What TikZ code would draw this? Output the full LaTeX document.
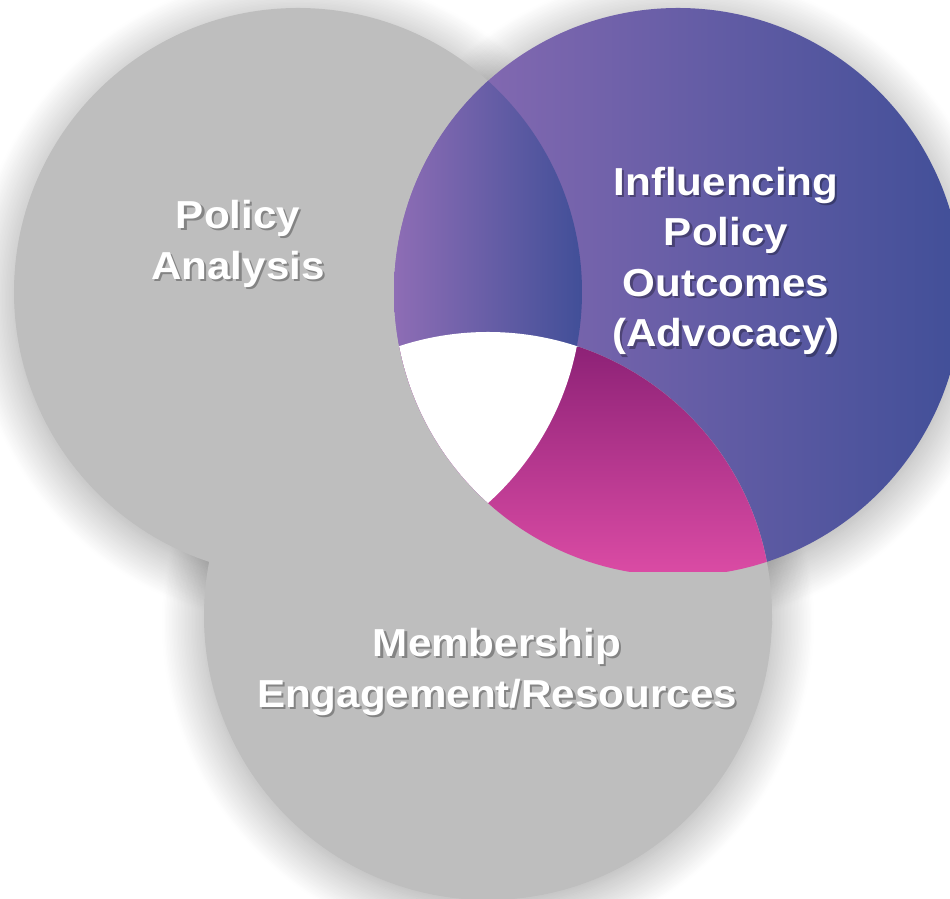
\documentclass[tikz,border=0pt]{standalone}
\usepackage{fontspec}
\setmainfont{Liberation Sans}[FakeStretch=1.08]
\usepackage{tikz}
\usetikzlibrary{shadows.blur}

\definecolor{circgray}{HTML}{BEBEBE}
\definecolor{purpleL}{HTML}{8E6DB5}
\definecolor{blueR}{HTML}{414F98}
\definecolor{magTop}{HTML}{8E2277}
\definecolor{magBot}{HTML}{DA4BA4}

\tikzset{
  venn label/.style={font=\bfseries\fontsize{11.1}{14.4}\selectfont, text=white, align=center, inner sep=0pt},
  venn shadow/.style={venn label, text=black, opacity=0.3, xshift=0.6pt, yshift=-0.6pt},
  circ shadow/.style={blur shadow={shadow xshift=0pt, shadow yshift=-2pt, shadow blur radius=12pt, shadow blur steps=30, shadow opacity=38}}
}

\begin{document}
\begin{tikzpicture}
    \useasboundingbox (0,0) rectangle (9.5,8.98);
    \def\rad{2.84}
    \coordinate (L) at (2.98,6.06);
    \coordinate (R) at (6.78,6.06);
    \coordinate (B) at (4.88,2.82);
    % soft shadows first
    \foreach \c in {L,R,B}
      \path[circ shadow] (\c) circle (\rad);
    \fill[circgray] (L) circle (\rad);
    \shade[left color=purpleL, right color=blueR] (R) circle (\rad);
    \fill[circgray] (B) circle (\rad);
    % left and right overlap
    \begin{scope}
      \clip (L) circle (\rad);
      \clip (R) circle (\rad);
      \shade[left color=purpleL, right color=blueR] (3.94,3) rectangle (5.82,8.3);
    \end{scope}
    % right and bottom overlap
    \begin{scope}
      \clip (R) circle (\rad);
      \clip (B) circle (\rad);
      \shade[top color=magTop, bottom color=magBot] (3.9,5.5) rectangle (7.8,3.26);
    \end{scope}
    % all three
    \begin{scope}
      \clip (L) circle (\rad);
      \clip (R) circle (\rad);
      \fill[white] (B) circle (\rad);
    \end{scope}
    % labels
    \node[venn shadow] (pa-s) at (2.38,6.54) {Policy\\Analysis};
    \node[venn label] (pa) at (2.38,6.54) {Policy\\Analysis};
    \node[venn shadow] (ipo-s) at (7.26,6.37) {Influencing\\Policy\\Outcomes\\(Advocacy)};
    \node[venn label] (ipo) at (7.26,6.37) {Influencing\\Policy\\Outcomes\\(Advocacy)};
    \node[venn shadow] (me-s) at (4.97,2.26) {Membership\\Engagement/Resources};
    \node[venn label] (me) at (4.97,2.26) {Membership\\Engagement/Resources};
\end{tikzpicture}
\end{document}
